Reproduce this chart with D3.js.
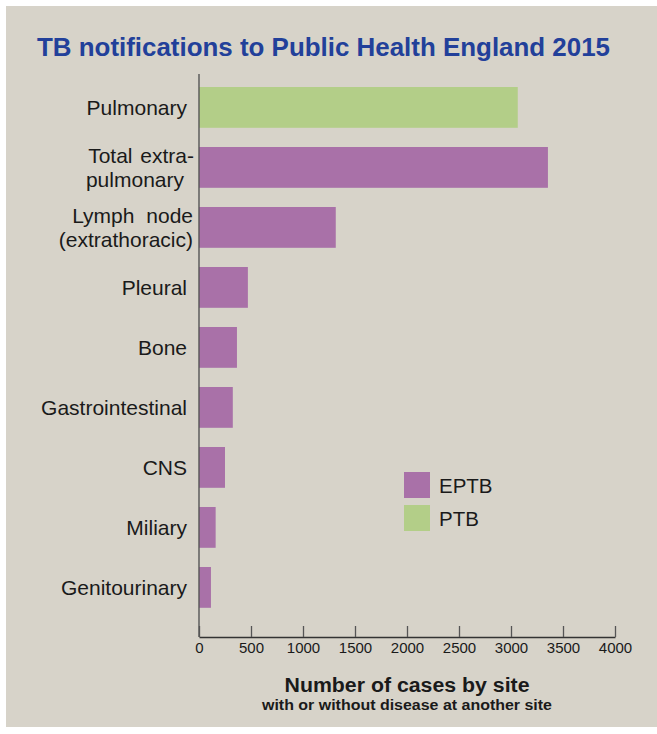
<!DOCTYPE html>
<html>
<head>
<meta charset="utf-8">
<script src="https://cdn.jsdelivr.net/npm/d3@7/dist/d3.min.js"></script>
<style>
  html, body { margin: 0; padding: 0; background: #ffffff; }
  svg { display: block; }
  text { font-family: "Liberation Sans", Arial, Helvetica, sans-serif; }
</style>
</head>
<body>
<svg id="chart" width="657" height="734"></svg>
<script>
// ---- data ----
const categories = ["Pulmonary", "Total extra-pulmonary", "Lymph node (extrathoracic)", "Pleural", "Bone", "Gastrointestinal", "CNS", "Miliary", "Genitourinary"];
const labelLines = [["Pulmonary"], ["Total extra-", "pulmonary"], ["Lymph node", "(extrathoracic)"], ["Pleural"], ["Bone"], ["Gastrointestinal"], ["CNS"], ["Miliary"], ["Genitourinary"]];
const values = [3065, 3355, 1315, 470, 365, 325, 250, 160, 115];
const seriesOf = ["PTB", "EPTB", "EPTB", "EPTB", "EPTB", "EPTB", "EPTB", "EPTB", "EPTB"];
const xTicks = [0, 500, 1000, 1500, 2000, 2500, 3000, 3500, 4000];
const legendItems = ["EPTB", "PTB"];
const titleText = "TB notifications to Public Health England 2015";
const axisTitle = "Number of cases by site";
const axisSubtitle = "with or without disease at another site";

// ---- styles ----
const colors = { EPTB: "#a971a8", PTB: "#b3ce88" };
const svg = d3.select("#chart");

svg.append("rect").attr("x", 6).attr("y", 6).attr("width", 651).attr("height", 721).attr("fill", "#d7d3c9");

const x = d3.scaleLinear().domain([0, 4000]).range([199, 615]);
const y = d3.scaleBand().domain(categories).range([77.4, 617.4]).paddingInner(0.32).paddingOuter(0.16);

// title
svg.append("text").attr("x", 37).attr("y", 55.5)
  .attr("font-size", 25).attr("font-weight", "bold").attr("fill", "#22409a")
  .attr("textLength", 573).attr("lengthAdjust", "spacingAndGlyphs")
  .text(titleText);

// bars
svg.append("g").selectAll("rect").data(categories).join("rect")
  .attr("x", x(0))
  .attr("y", d => y(d))
  .attr("width", (d, i) => x(values[i]) - x(0))
  .attr("height", y.bandwidth())
  .attr("fill", (d, i) => colors[seriesOf[i]]);

// y axis line
svg.append("line").attr("x1", x(0)).attr("x2", x(0)).attr("y1", 74).attr("y2", 637)
  .attr("stroke", "#555").attr("stroke-width", 1.4);

// category labels
const lab = svg.append("g").attr("font-size", 21).attr("fill", "#1a1a1a");
categories.forEach((c, i) => {
  const cy = y(c) + y.bandwidth() / 2;
  const lines = labelLines[i];
  if (lines.length === 1) {
    lab.append("text").attr("x", 187).attr("y", cy + 7.2).attr("text-anchor", "end").text(lines[0]);
  } else {
    const ends = i === 1 ? [194, 184] : [193, 193];
    const ws = i === 1 ? 2 : 6;
    lab.append("text").attr("x", ends[0]).attr("y", cy - 4.5).attr("text-anchor", "end")
      .style("word-spacing", ws + "px").text(lines[0]);
    lab.append("text").attr("x", ends[1]).attr("y", cy + 19.5).attr("text-anchor", "end").text(lines[1]);
  }
});

// x axis
const xAxis = d3.axisBottom(x).tickValues(xTicks).tickFormat(d3.format("d"))
  .tickSizeInner(-11).tickSizeOuter(0).tickPadding(5);
const gx = svg.append("g").attr("transform", "translate(0,637)").call(xAxis);
gx.select(".domain").attr("stroke", "#333").attr("stroke-width", 1.3);
gx.selectAll(".tick line").attr("stroke", "#555").attr("stroke-width", 1.3);
gx.selectAll(".tick text").attr("font-size", 15).attr("fill", "#1a1a1a")
  .attr("font-family", "'Liberation Sans', Arial, sans-serif");

// axis titles
svg.append("text").attr("x", 407).attr("y", 692).attr("text-anchor", "middle")
  .attr("font-size", 20).attr("font-weight", "bold").attr("fill", "#1a1a1a")
  .attr("textLength", 245).attr("lengthAdjust", "spacingAndGlyphs").text(axisTitle);
svg.append("text").attr("x", 407).attr("y", 710).attr("text-anchor", "middle")
  .attr("font-size", 14.5).attr("font-weight", "bold").attr("fill", "#1a1a1a")
  .attr("textLength", 290).attr("lengthAdjust", "spacingAndGlyphs").text(axisSubtitle);

// legend
const lg = svg.append("g");
legendItems.forEach((k, i) => {
  lg.append("rect").attr("x", 404).attr("y", 472 + i * 33).attr("width", 26).attr("height", 26).attr("fill", colors[k]);
  lg.append("text").attr("x", 439).attr("y", 493 + i * 33).attr("font-size", 20.5).attr("fill", "#1a1a1a").text(k);
});
</script>
</body>
</html>
